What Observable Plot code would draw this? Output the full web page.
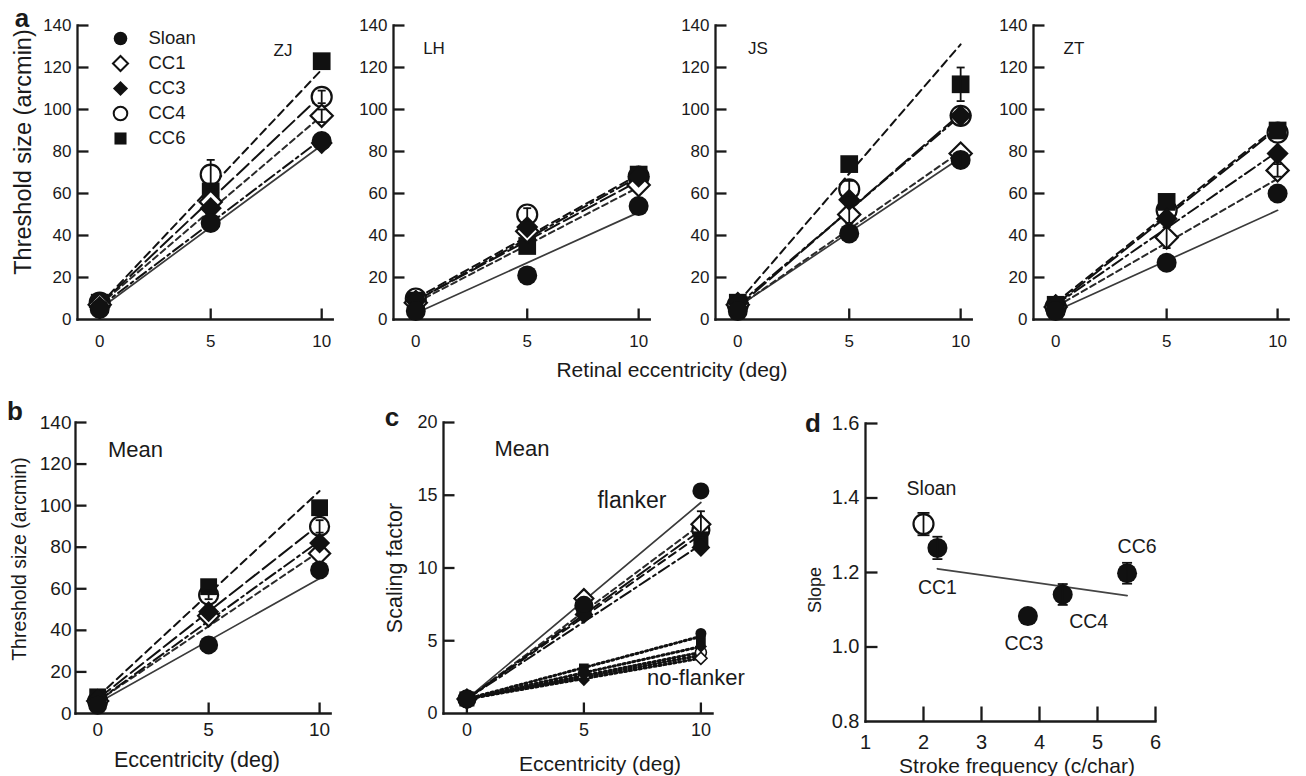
<!DOCTYPE html>
<html>
<head>
<meta charset="utf-8">
<script src="https://cdn.jsdelivr.net/npm/d3@7"></script>
<script src="https://cdn.jsdelivr.net/npm/@observablehq/plot@0.6"></script>
<style>
  body { margin: 0; background: #fff; }
  #fig { position: relative; width: 1306px; height: 776px; overflow: hidden; background: #fff;
         font-family: "Liberation Sans", Arial, Helvetica, sans-serif; color: #1a1a1a; }
  #fig svg { position: absolute; overflow: visible; }
  .lbl { position: absolute; white-space: nowrap; line-height: 1; }
</style>
</head>
<body>
<div id="fig"></div>
<script>
// ---------------- DATA ----------------
const eccentricity = [0, 5, 10];
const letterSets = ["Sloan", "CC1", "CC3", "CC4", "CC6"];
const subjects = ["ZJ", "LH", "JS", "ZT"];

// threshold size (arcmin) at 0, 5, 10 deg; one row per letter set
const thresholdZJ = [[5, 46, 85], [7, 56, 97], [6, 53, 84], [8, 69, 106], [8, 61, 123]];
const thresholdLH = [[4, 21, 54], [8, 42, 64], [9, 44, 68], [10, 50, 68], [9, 35, 69]];
const thresholdJS = [[4, 41, 76], [7, 50, 79], [8, 57, 97], [7, 62, 97], [8, 74, 112]];
const thresholdZT = [[4, 27, 60], [6, 39, 71], [7, 48, 79], [6, 52, 89], [7, 56, 90]];
const thresholdMean = [[4, 33, 69], [6, 47, 77], [7, 49, 82], [6, 57, 90], [8, 61, 99]];

// error bar half-lengths (0 = none)
const errorZJ = [[0, 0, 0], [0, 0, 3], [0, 0, 0], [0, 7, 3], [0, 0, 0]];
const errorLH = [[0, 0, 0], [0, 0, 0], [0, 0, 0], [0, 3, 0], [0, 0, 0]];
const errorJS = [[0, 0, 3], [0, 4, 0], [0, 0, 0], [0, 4, 0], [0, 0, 8]];
const errorZT = [[0, 0, 0], [0, 5, 3], [0, 0, 0], [0, 0, 0], [0, 0, 0]];
const errorMean = [[0, 0, 0], [0, 0, 0], [0, 0, 0], [0, 2, 3], [0, 0, 0]];

// fitted lines: value at 0 deg and at 10 deg
const fitZJ = [[5, 83], [7, 97], [6, 86], [7, 107], [7, 119]];
const fitLH = [[3, 51], [8, 63], [9, 68], [9, 66], [10, 69]];
const fitJS = [[6, 77], [6, 80], [7, 97], [6, 98], [8, 131]];
const fitZT = [[4, 52], [6, 67], [7, 80], [7, 91], [8, 92]];
const fitMean = [[5, 65], [6, 78], [6, 83], [7, 91], [8, 107]];

// scaling factor (panel c)
const scalingFlanker = [[1, 7.5, 15.3], [1, 7.9, 13.0], [1, 6.8, 11.4], [1, 7.4, 12.6], [1, 7.2, 12.0]];
const errorFlanker = [[0, 0, 0], [0, 0, 0.9], [0, 0, 0], [0, 0, 0], [0, 0, 0]];
const fitFlanker = [[1, 14.5], [1, 13.0], [1, 11.6], [1, 12.6], [1, 12.3]];
const scalingNoFlanker = [[1, 2.8, 5.5], [1, 2.5, 3.8], [1, 2.3, 4.6], [1, 2.7, 4.2], [1, 3.1, 5.0]];
const errorNoFlanker = [[0, 0, 0], [0, 0, 0], [0, 0, 0], [0, 0, 0], [0, 0, 0]];
const fitNoFlanker = [[1, 5.3], [1, 3.8], [1, 4.2], [1, 4.0], [1, 4.6]];

// panel d
const strokeFrequency = [2.0, 2.24, 3.8, 4.4, 5.51];
const slopeValues = [1.33, 1.266, 1.083, 1.141, 1.198];
const slopeErrors = [0.03, 0.03, 0, 0.028, 0.028];
const slopeFitFrequency = [2.24, 5.51];
const slopeFitValues = [1.21, 1.138];

// tick values
const eccTicks = [0, 5, 10];
const thresholdTicks = [0, 20, 40, 60, 80, 100, 120, 140];
const scalingTicks = [0, 5, 10, 15, 20];
const frequencyTicks = [1, 2, 3, 4, 5, 6];
const slopeTicks = [0.8, 1.0, 1.2, 1.4, 1.6];

// ---------------- STYLE ----------------
const FONT = '"Liberation Sans", Arial, Helvetica, sans-serif';
const INK = "#1a1a1a";
const MARK = "#111";
const markerSymbol = {Sloan: "circle", CC1: "diamond2", CC3: "diamond2", CC4: "circle", CC6: "square"};
const markerFilled = {Sloan: true, CC1: false, CC3: true, CC4: false, CC6: true};
const lineDash = {Sloan: undefined, CC1: "6,4", CC3: "12,4,3,4", CC4: "16,5", CC6: "8,5"};
const lineColor = {Sloan: "#3a3a3a", CC1: "#2a2a2a", CC3: "#111", CC4: "#111", CC6: "#111"};
const lineWidth = {Sloan: 1.7, CC1: 2, CC3: 2, CC4: 2, CC6: 2};
const drawOrder = ["CC4", "CC6", "CC1", "CC3", "Sloan"];

const capSym = (w) => ({draw(ctx) { ctx.moveTo(-w / 2, 0); ctx.lineTo(w / 2, 0); }});

const fig = document.getElementById("fig");

function label(text, cx, cy, size, opts = {}) {
  const d = document.createElement("div");
  d.className = "lbl";
  d.textContent = text;
  d.style.left = cx + "px";
  d.style.top = cy + "px";
  d.style.fontSize = size + "px";
  if (opts.bold) d.style.fontWeight = "bold";
  const tx = opts.anchor === "start" ? "0" : "-50%";
  d.style.transform = `translate(${tx},-50%)` + (opts.rotate ? " rotate(-90deg)" : "");
  fig.appendChild(d);
}

function errorBarMarks(data, x, y, e, w) {
  return [
    Plot.ruleX(data, {x, y1: d => d[y] - d[e], y2: d => d[y] + d[e], stroke: MARK, strokeWidth: 1.8}),
    Plot.dot(data, {x, y: d => d[y] + d[e], symbol: capSym(w), stroke: MARK, strokeWidth: 1.8, fill: "none"}),
    Plot.dot(data, {x, y: d => d[y] - d[e], symbol: capSym(w), stroke: MARK, strokeWidth: 1.8, fill: "none"})
  ];
}

function seriesMarks(values, errors, fits, {r = 10, dotted = false, sw = 2.2} = {}) {
  const pts = [];
  letterSets.forEach((s, i) => eccentricity.forEach((e, j) =>
    pts.push({set: s, ecc: e, value: values[i][j], err: errors[i][j]})));
  const marks = [];
  letterSets.forEach((s, i) => {
    const fit = [
      {ecc: eccentricity[0], value: fits[i][0]},
      {ecc: eccentricity[eccentricity.length - 1], value: fits[i][1]}
    ];
    marks.push(Plot.line(fit, {
      x: "ecc", y: "value",
      stroke: dotted ? MARK : lineColor[s],
      strokeWidth: dotted ? 3 : lineWidth[s],
      strokeDasharray: dotted ? "2,3" : lineDash[s]
    }));
  });
  for (const s of drawOrder) {
    marks.push(Plot.dot(pts.filter(d => d.set === s), {
      x: "ecc", y: "value", r, symbol: markerSymbol[s],
      fill: markerFilled[s] ? MARK : "white",
      stroke: markerFilled[s] ? "none" : MARK,
      strokeWidth: sw
    }));
  }
  marks.push(...errorBarMarks(pts.filter(d => d.err > 0), "ecc", "value", "err", 8));
  return marks;
}

function panel(o) {
  const [fl, fr, ft, fb] = o.frame;
  const fw = fr - fl, fh = fb - ft;
  const mL = 60, mR = 20, mT = 20, mB = 40;
  const tickLen = o.tickLen ?? 11;
  const xTickLen = o.xTickLen ?? tickLen;
  const x0 = o.xDomain[0], y0 = o.yDomain[0];
  const xPerPx = (o.xDomain[1] - x0) / fw;
  const yPerPx = (o.yDomain[1] - y0) / fh;
  // inward tick marks, built from the tick values
  const xTickMarks = o.xTicks.filter(t => t > x0).map(t => ({v: t, a: y0, b: y0 + xTickLen * yPerPx}));
  const yTickMarks = o.yTicks.filter(t => t > y0).map(t => ({v: t, a: x0, b: x0 + tickLen * xPerPx}));
  const axisLines = [{x1: x0, x2: o.xDomain[1], y1: y0, y2: y0}, {x1: x0, x2: x0, y1: y0, y2: o.yDomain[1]}];
  const svg = Plot.plot({
    width: fw + mL + mR,
    height: fh + mT + mB,
    marginLeft: mL, marginRight: mR, marginTop: mT, marginBottom: mB,
    style: {fontFamily: FONT, fontSize: o.fontSize + "px", color: INK, background: "transparent", overflow: "visible"},
    x: {domain: o.xDomain, ticks: o.xTicks, tickSize: 0, tickPadding: o.xPad, label: null, tickFormat: o.xFormat ?? d3.format("d")},
    y: {domain: o.yDomain, ticks: o.yTicks, tickSize: 0, tickPadding: o.yPad, label: null, tickFormat: o.yFormat ?? d3.format("d")},
    marks: [
      Plot.link(axisLines, {x1: "x1", x2: "x2", y1: "y1", y2: "y2", stroke: INK, strokeWidth: 2.3, strokeLinecap: "square"}),
      Plot.link(xTickMarks, {x1: "v", x2: "v", y1: "a", y2: "b", stroke: INK, strokeWidth: 2.3}),
      Plot.link(yTickMarks, {y1: "v", y2: "v", x1: "a", x2: "b", stroke: INK, strokeWidth: 2.3}),
      ...o.marks
    ]
  });
  svg.style.position = "absolute";
  svg.style.left = (fl - mL) + "px";
  svg.style.top = (ft - mT) + "px";
  fig.appendChild(svg);
}

// ---------------- PANEL a ----------------
const subjectThresholds = [thresholdZJ, thresholdLH, thresholdJS, thresholdZT];
const subjectErrors = [errorZJ, errorLH, errorJS, errorZT];
const subjectFits = [fitZJ, fitLH, fitJS, fitZT];
const aFrames = [[76.8, 332.1, 25, 319], [392.7, 649, 25, 319], [714.7, 971, 25, 319], [1032.8, 1288, 25, 319]];
const aSubjectPos = [[283, 50], [434, 47.5], [758, 47.5], [1074, 47.5]];

subjects.forEach((subj, k) => {
  panel({
    frame: aFrames[k], xDomain: [-1, 10.5], yDomain: [0, 140],
    xTicks: eccTicks, yTicks: thresholdTicks, fontSize: 17, xPad: 15, yPad: 6,
    marks: seriesMarks(subjectThresholds[k], subjectErrors[k], subjectFits[k], {r: 10})
  });
  label(subj, aSubjectPos[k][0], aSubjectPos[k][1], 17);
});

// legend (in ZJ panel)
{
  const svg = Plot.plot({
    width: 110, height: 125, marginLeft: 12, marginRight: 0, marginTop: 12.5, marginBottom: 12.5,
    style: {fontFamily: FONT, fontSize: "18.5px", color: INK, background: "transparent", overflow: "visible"},
    x: {domain: [0, 1], axis: null},
    y: {type: "point", domain: letterSets, padding: 0, axis: null},
    marks: [
      ...letterSets.map(s => Plot.dot([s], {
        x: () => 0, y: d => d, r: 6.8, symbol: markerSymbol[s],
        fill: markerFilled[s] ? MARK : "white", stroke: markerFilled[s] ? "none" : MARK, strokeWidth: 2
      })),
      Plot.text(letterSets, {x: () => 0, y: d => d, text: d => d, dx: 28, textAnchor: "start", fontSize: 18.5, fill: INK})
    ]
  });
  svg.style.position = "absolute";
  svg.style.left = (120 - 12) + "px";
  svg.style.top = (37 - 12.5) + "px";
  fig.appendChild(svg);
}

label("a", 22, 17.5, 26, {bold: true});
label("Threshold size (arcmin)", 23.5, 152, 23.5, {rotate: true});
label("Retinal eccentricity (deg)", 672, 369, 21);

// ---------------- PANEL b ----------------
panel({
  frame: [74.8, 330, 422, 713], xDomain: [-1, 10.5], yDomain: [0, 140],
  xTicks: eccTicks, yTicks: thresholdTicks, fontSize: 19, xPad: 9, yPad: 4,
  marks: seriesMarks(thresholdMean, errorMean, fitMean, {r: 9.5})
});
label("b", 15, 411, 26, {bold: true});
label("Mean", 135.5, 449.5, 22);
label("Threshold size (arcmin)", 20, 559, 19.5, {rotate: true});
label("Eccentricity (deg)", 197, 761, 21.5);

// ---------------- PANEL c ----------------
panel({
  frame: [442.6, 711.7, 422, 713], xDomain: [-1, 10.5], yDomain: [0, 20],
  xTicks: eccTicks, yTicks: scalingTicks, fontSize: 18, xPad: 10, yPad: 6,
  marks: [
    ...seriesMarks(scalingNoFlanker, errorNoFlanker, fitNoFlanker, {r: 5.5, dotted: true, sw: 1.6}),
    ...seriesMarks(scalingFlanker, errorFlanker, fitFlanker, {r: 8.5})
  ]
});
label("c", 392, 416.5, 26, {bold: true});
label("Mean", 522, 448.5, 22);
label("flanker", 632, 500, 23);
label("no-flanker", 647, 678, 22, {anchor: "start"});
label("Scaling factor", 396, 568, 21.5, {rotate: true});
label("Eccentricity (deg)", 600, 763, 21);

// ---------------- PANEL d ----------------
{
  const dPts = letterSets.map((s, i) => ({set: s, freq: strokeFrequency[i], slope: slopeValues[i], err: slopeErrors[i]}));
  const fitPts = slopeFitFrequency.map((f, i) => ({freq: f, slope: slopeFitValues[i]}));
  const labelOffsets = {Sloan: [8, -35], CC1: [0, 40], CC3: [-4, 28], CC4: [26, 27], CC6: [10, -26]};
  const marks = [
    Plot.line(fitPts, {x: "freq", y: "slope", stroke: "#444", strokeWidth: 1.8}),
    Plot.dot(dPts.filter(d => d.set !== "Sloan"), {x: "freq", y: "slope", r: 10, symbol: "circle", fill: MARK, stroke: "none"}),
    Plot.dot(dPts.filter(d => d.set === "Sloan"), {x: "freq", y: "slope", r: 10, symbol: "circle", fill: "white", stroke: MARK, strokeWidth: 2.2}),
    ...errorBarMarks(dPts.filter(d => d.err > 0 && d.set === "Sloan"), "freq", "slope", "err", 12),
    ...errorBarMarks(dPts.filter(d => d.err > 0 && d.set !== "Sloan"), "freq", "slope", "err", 10),
    ...letterSets.map(s => Plot.text(dPts.filter(d => d.set === s), {
      x: "freq", y: "slope", text: "set", dx: labelOffsets[s][0], dy: labelOffsets[s][1], fontSize: 19.5, fill: INK
    }))
  ];
  panel({
    frame: [865, 1155, 423, 721], xDomain: [1, 6], yDomain: [0.8, 1.6],
    xTicks: frequencyTicks, yTicks: slopeTicks, fontSize: 20, xPad: 13, yPad: 6,
    tickLen: 12, xTickLen: 15, xFormat: d3.format("d"), yFormat: d3.format(".1f"),
    marks
  });
}
label("d", 813, 423, 26, {bold: true});
label("Slope", 814.5, 590, 18, {rotate: true});
label("Stroke frequency (c/char)", 1017, 765, 21);
</script>
</body>
</html>
